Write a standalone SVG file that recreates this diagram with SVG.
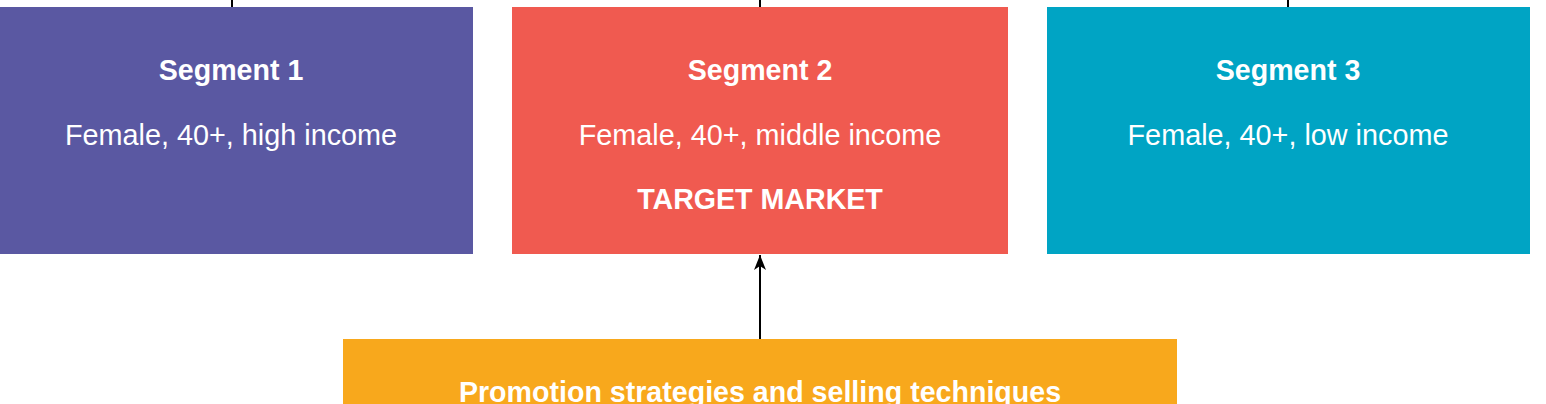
<svg xmlns="http://www.w3.org/2000/svg" width="1546" height="404" viewBox="0 0 1546 404">
<defs>
<style>
text{font-family:"Liberation Sans",Arial,Helvetica,sans-serif;fill:#ffffff;text-anchor:middle;font-size:28.8px}
.b{font-weight:bold;font-size:28.6px}
.ln{stroke:#000;stroke-width:2;fill:none}
</style>
<marker id="ah" viewBox="0 0 16 14" markerWidth="16" markerHeight="14" refX="15" refY="7" orient="auto" markerUnits="userSpaceOnUse">
<path d="M0,1 L15,7 L0,13 L4,7 Z" fill="#000"/>
</marker>
</defs>
<rect width="1546" height="404" fill="#ffffff"/>
<g id="connectors">
<line class="ln" x1="232" y1="0" x2="232" y2="7"/>
<line class="ln" x1="760" y1="0" x2="760" y2="7"/>
<line class="ln" x1="1288" y1="0" x2="1288" y2="7"/>
<line class="ln" x1="760" y1="339" x2="760" y2="255" marker-end="url(#ah)"/>
</g>
<g id="segment1">
<rect x="-9" y="7" width="482" height="247" fill="#5A58A2"/>
<text class="b" x="231" y="80">Segment 1</text>
<text x="231" y="145">Female, 40+, high income</text>
</g>
<g id="segment2">
<rect x="512" y="7" width="496" height="247" fill="#F05A50"/>
<text class="b" x="760" y="80">Segment 2</text>
<text x="760" y="145">Female, 40+, middle income</text>
<text class="b" x="760" y="209">TARGET MARKET</text>
</g>
<g id="segment3">
<rect x="1047" y="7" width="483" height="247" fill="#00A4C4"/>
<text class="b" x="1288" y="80">Segment 3</text>
<text x="1288" y="145">Female, 40+, low income</text>
</g>
<g id="promotion">
<rect x="343" y="339" width="834" height="80" fill="#F8A81C"/>
<text class="b" x="760" y="402">Promotion strategies and selling techniques</text>
</g>
</svg>
